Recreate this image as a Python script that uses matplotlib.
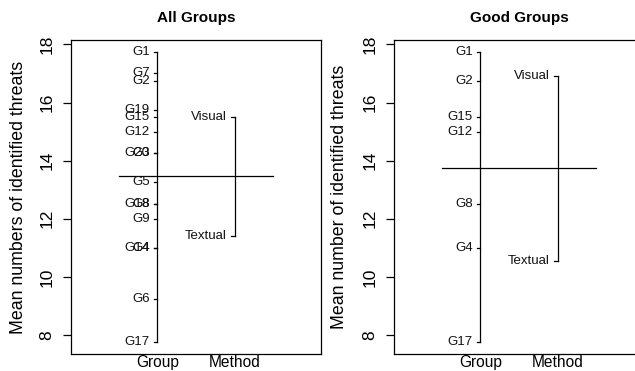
"""Design plot of mean identified threats per group and per method,
for all groups and for the good groups only."""
import numpy as np
import matplotlib
matplotlib.use("Agg")
import matplotlib.pyplot as plt

plt.rcParams["font.family"] = ["Liberation Sans", "DejaVu Sans"]

factors = ["Group", "Method"]

all_groups = ["G1", "G7", "G2", "G19", "G15", "G12", "G20", "G3",
              "G5", "G18", "G8", "G9", "G14", "G4", "G6", "G17"]
all_group_means = [17.75, 17.0, 16.75, 15.75, 15.5, 15.0, 14.25, 14.25,
                   13.25, 12.5, 12.5, 12.0, 11.0, 11.0, 9.25, 7.75]
all_methods = ["Visual", "Textual"]
all_method_means = [15.5, 11.4]

good_groups = ["G1", "G2", "G15", "G12", "G8", "G4", "G17"]
good_group_means = [17.75, 16.75, 15.5, 15.0, 12.5, 11.0, 7.75]
good_methods = ["Visual", "Textual"]
good_method_means = [16.9, 10.55]

yticks = [8, 10, 12, 14, 16, 18]

W, H = 635, 371
fig = plt.figure(figsize=(W / 100, H / 100), dpi=100)


def design_panel(left, title, ylabel, ylabel_x, levels):
    ax = fig.add_axes([left / W, 17 / H, 250 / W, 314 / H])
    grand = np.mean(levels[0][1])
    for i, (labels, means) in enumerate(levels, start=1):
        ax.plot([i, i], [min(means), max(means)], color="black", lw=0.9)
        for lab, m in zip(labels, means):
            ax.plot([i - 0.05, i], [m, m], color="black", lw=0.9)
            ax.text(i - 0.1, m, lab, ha="right", va="center", fontsize=9.5,
                    color="#111111")
    ax.plot([0.5, len(levels) + 0.5], [grand, grand], color="black", lw=0.9)

    ax.set_xlim(-0.12, 3.12)
    ax.set_ylim(7.35, 18.15)
    ax.set_xticks([1, 2])
    ax.set_xticklabels(factors, fontsize=11.2)
    ax.tick_params(axis="x", length=0, pad=1)
    ax.set_yticks(yticks)
    ax.set_yticklabels([str(t) for t in yticks], rotation=90, va="center",
                       fontsize=12.5)
    ax.tick_params(axis="y", length=5.5, width=0.9, pad=6.5)
    for s in ax.spines.values():
        s.set_linewidth(0.9)
    ax.set_title(title, fontsize=11, fontweight="bold", pad=13)
    fig.text(ylabel_x / W, 1 - 197 / H, ylabel, rotation=90,
             ha="center", va="center", fontsize=12.8)
    return ax


design_panel(71, "All Groups", "Mean numbers of identified threats", 19,
             [(all_groups, all_group_means), (all_methods, all_method_means)])
design_panel(394, "Good Groups", "Mean number of identified threats", 339,
             [(good_groups, good_group_means),
              (good_methods, good_method_means)])

fig.savefig("out.png", dpi=100)
